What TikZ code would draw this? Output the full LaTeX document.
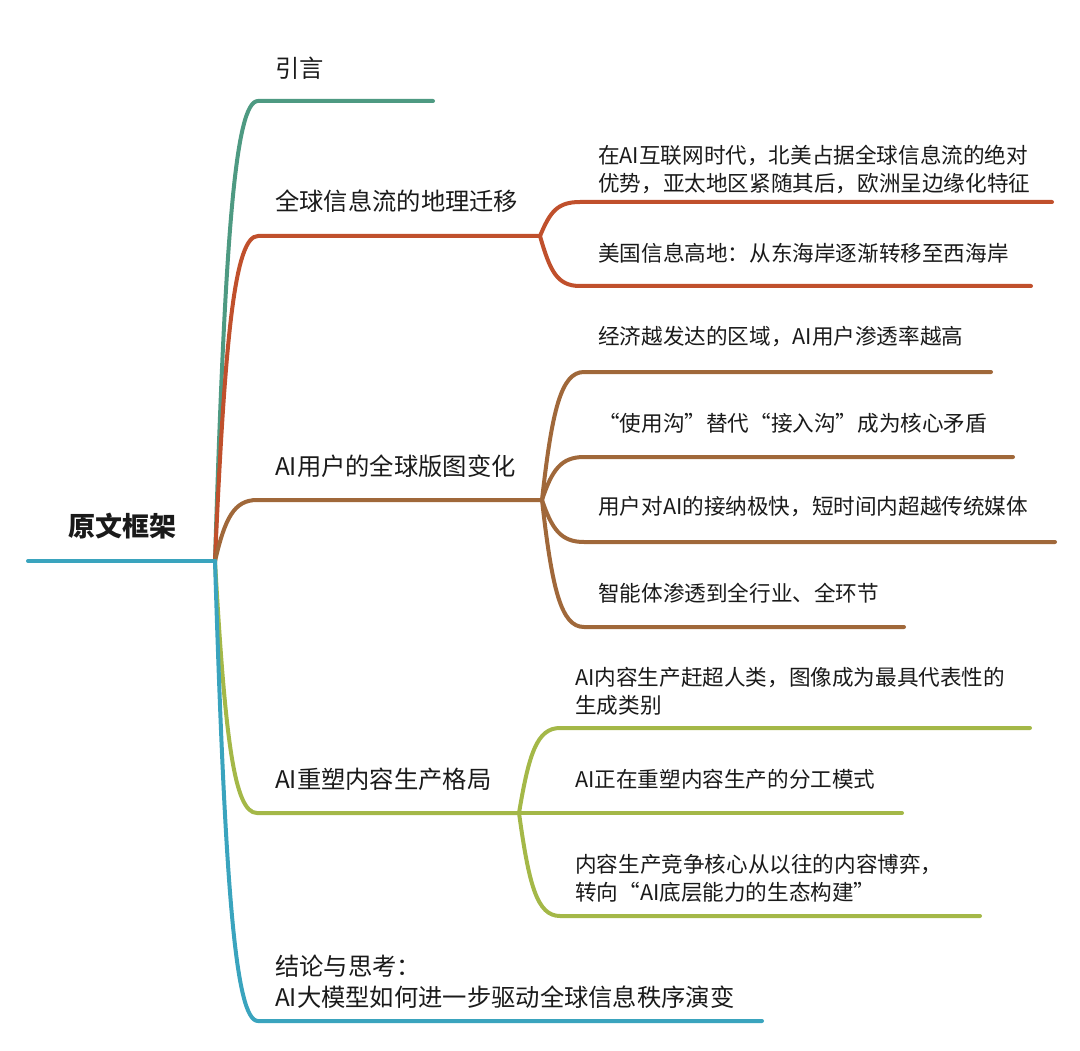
\documentclass[tikz,border=0pt]{standalone}
\usepackage{fontspec}
\setmainfont{Noto Sans CJK SC}
\usetikzlibrary{calc}
\definecolor{introcol}{HTML}{4E9A82}
\definecolor{flowcol}{HTML}{C0502C}
\definecolor{usercol}{HTML}{A0683A}
\definecolor{contcol}{HTML}{A4B848}
\definecolor{rootcol}{HTML}{3AA4BE}
\definecolor{textcol}{HTML}{1A1A1A}
\tikzset{trunk/.style={line width=4pt, line cap=round, line join=round},
limb/.style={to path={.. controls ($(\tikztostart)!0.7!(\tikztostart|-\tikztotarget)+(10,0)$) and ($(\tikztotarget)+(-23,0)$) .. (\tikztotarget)}},
topic/.style={anchor=west, inner sep=0pt, text=textcol, align=left, font=\fontsize{24.3}{31}\selectfont},
leaf/.style={anchor=west, inner sep=0pt, text=textcol, align=left, font=\fontsize{21.6}{28}\selectfont}
}

\begin{document}
\begin{tikzpicture}[x=1pt, y=-1pt]
\useasboundingbox (0,0) rectangle (1080,1051);

% root
\coordinate (origin) at (28,561);
\coordinate (hub) at (215,561);
\node[anchor=west, inner sep=0pt, text=textcol, font=\fontsize{27}{32}\selectfont\bfseries] (Root) at (68,526) {原文框架};

% main branches
\coordinate (intro-s) at (258,101);  \coordinate (intro-e) at (433,101);
\coordinate (flow-s) at (258,236);   \coordinate (flow-j) at (540,236);
\coordinate (user-s) at (257,500);   \coordinate (user-j) at (542,500);
\coordinate (cont-s) at (257,813);   \coordinate (cont-j) at (519,813);
\coordinate (concl-s) at (258,1021); \coordinate (concl-e) at (762,1021);

\node[topic] (Intro) at (275,68) {引言};
\node[topic] (Flow) at (275,201) {全球信息流的地理迁移};
\node[topic] (User) at (275,466) {AI用户的全球版图变化};
\node[topic] (Cont) at (275,779) {AI重塑内容生产格局};
\node[topic] (Concl) at (275,982) {结论与思考：\\AI大模型如何进一步驱动全球信息秩序演变};

% leaves
\coordinate (flow1-s) at (580,202); \coordinate (flow1-e) at (1052,202);
\coordinate (flow2-s) at (580,286); \coordinate (flow2-e) at (1031,286);
\coordinate (user1-s) at (584,372); \coordinate (user1-e) at (991,372);
\coordinate (user2-s) at (584,457); \coordinate (user2-e) at (1013,457);
\coordinate (user3-s) at (584,542); \coordinate (user3-e) at (1055,542);
\coordinate (user4-s) at (584,627); \coordinate (user4-e) at (904,627);
\coordinate (cont1-s) at (560,728); \coordinate (cont1-e) at (1030,728);
\coordinate (cont2-e) at (902,813);
\coordinate (cont3-s) at (560,916); \coordinate (cont3-e) at (980,916);

\node[leaf] (Flow 1) at (598,169) {在AI互联网时代，北美占据全球信息流的绝对\\优势，亚太地区紧随其后，欧洲呈边缘化特征};
\node[leaf] (Flow 2) at (598,253) {美国信息高地：从东海岸逐渐转移至西海岸};
\node[leaf] (User 1) at (598,337) {经济越发达的区域，AI用户渗透率越高};
\node[leaf] (User 2) at (598,423) {“使用沟”替代“接入沟”成为核心矛盾};
\node[leaf] (User 3) at (598,507) {用户对AI的接纳极快，短时间内超越传统媒体};
\node[leaf] (User 4) at (598,593) {智能体渗透到全行业、全环节};
\node[leaf] (Cont 1) at (575,691) {AI内容生产赶超人类，图像成为最具代表性的\\生成类别};
\node[leaf] (Cont 2) at (575,779) {AI正在重塑内容生产的分工模式};
\node[leaf] (Cont 3) at (575,878) {内容生产竞争核心从以往的内容博弈，\\转向“AI底层能力的生态构建”};

\draw[trunk, introcol] (hub) to[limb] (intro-s) -- (intro-e);
\draw[trunk, flowcol] (hub) to[limb] (flow-s) -- (flow-j);
\draw[trunk, usercol] (hub) to[limb] (user-s) -- (user-j);
\draw[trunk, contcol] (hub) to[limb] (cont-s) -- (cont-j);
\draw[trunk, rootcol] (hub) to[limb] (concl-s) -- (concl-e);
\draw[trunk, rootcol] (origin) -- (hub);

\draw[trunk, flowcol] (flow-j) to[limb] (flow1-s) -- (flow1-e);
\draw[trunk, flowcol] (flow-j) to[limb] (flow2-s) -- (flow2-e);
\draw[trunk, usercol] (user-j) to[limb] (user1-s) -- (user1-e);
\draw[trunk, usercol] (user-j) to[limb] (user2-s) -- (user2-e);
\draw[trunk, usercol] (user-j) to[limb] (user3-s) -- (user3-e);
\draw[trunk, usercol] (user-j) to[limb] (user4-s) -- (user4-e);
\draw[trunk, contcol] (cont-j) to[limb] (cont1-s) -- (cont1-e);
\draw[trunk, contcol] (cont-j) -- (cont2-e);
\draw[trunk, contcol] (cont-j) to[limb] (cont3-s) -- (cont3-e);
\end{tikzpicture}
\end{document}
